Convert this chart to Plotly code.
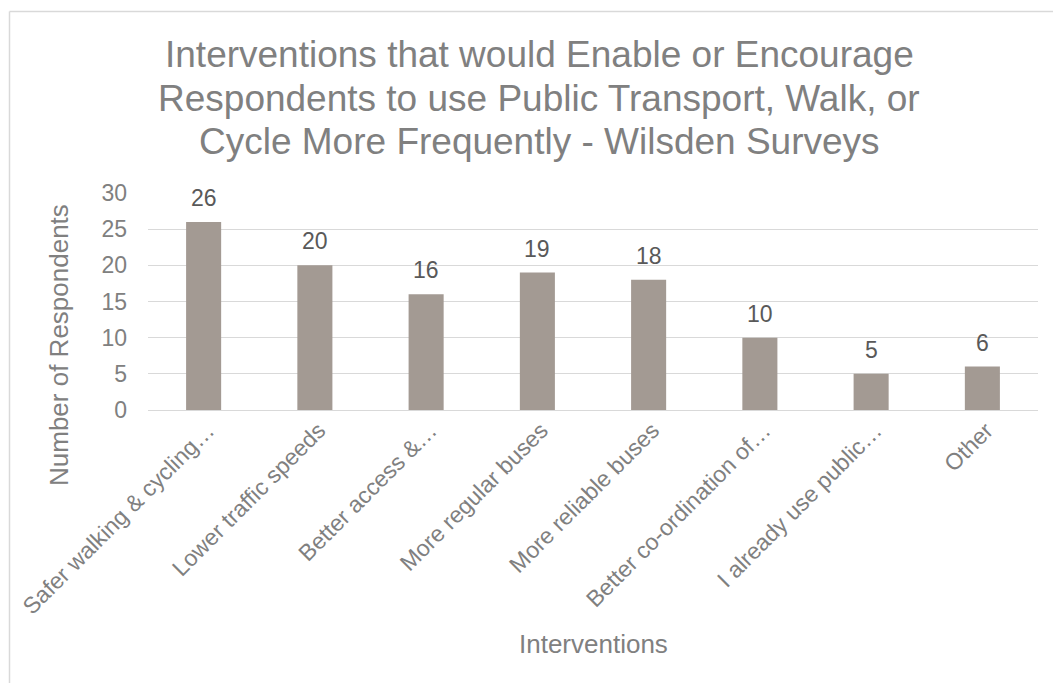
import plotly.graph_objects as go

categories = [
    "Safer walking & cycling…",
    "Lower traffic speeds",
    "Better access &…",
    "More regular buses",
    "More reliable buses",
    "Better co-ordination of…",
    "I already use public…",
    "Other",
]
respondents = [26, 20, 16, 19, 18, 10, 5, 6]
y_ticks = [0, 5, 10, 15, 20, 25, 30]
title_lines = [
    "Interventions that would Enable or Encourage",
    "Respondents to use Public Transport, Walk, or",
    "Cycle More Frequently - Wilsden Surveys",
]

W, H = 1053, 683
L, R, T, B = 148, 15, 193, 273
PW, PH = W - L - R, H - T - B

def px_x(x):
    return (x - L) / PW

def px_y(y):
    return 1 - (y - T) / PH

TXT = "#808080"
LBL = "#595959"
GRID = "#D9D9D9"
FONT = "Liberation Sans, Arial, sans-serif"

fig = go.Figure(
    go.Bar(
        x=categories,
        y=respondents,
        marker=dict(color="#A39A93", line=dict(width=0)),
        width=0.315,
        hoverinfo="x+y",
    )
)

annotations = []

# value labels sitting above each bar
for cat, val in zip(categories, respondents):
    annotations.append(dict(
        x=cat, y=val, xref="x", yref="y",
        text=str(val), showarrow=False,
        xanchor="center", yanchor="bottom", yshift=9,
        font=dict(size=23, color=LBL, family=FONT),
    ))

# chart title, one annotation per line for tight line spacing
for i, line in enumerate(title_lines):
    annotations.append(dict(
        text=line, xref="paper", yref="paper",
        x=px_x(539), y=px_y(55 + 43 * i),
        xanchor="center", yanchor="middle", showarrow=False,
        font=dict(size=37, color=TXT, family=FONT),
    ))

annotations += [
    dict(
        text="Number of Respondents",
        xref="paper", yref="paper",
        x=px_x(59), y=px_y(345),
        xanchor="center", yanchor="middle",
        textangle=-90, showarrow=False,
        font=dict(size=26, color=TXT, family=FONT),
    ),
    dict(
        text="Interventions",
        xref="paper", yref="paper",
        x=px_x(593), y=px_y(644),
        xanchor="center", yanchor="middle",
        showarrow=False,
        font=dict(size=26, color=TXT, family=FONT),
    ),
]

fig.update_layout(
    width=W,
    height=H,
    margin=dict(l=L, r=R, t=T, b=B, autoexpand=False),
    paper_bgcolor="white",
    plot_bgcolor="white",
    showlegend=False,
    font=dict(family=FONT, color=TXT),
    xaxis=dict(
        automargin=False,
        tickangle=-45,
        tickfont=dict(size=23, color=TXT),
        showgrid=False,
        showline=True,
        linecolor=GRID,
        linewidth=1,
        ticks="",
        ticklabelshift=4,
        ticklabelstandoff=-3,
    ),
    yaxis=dict(
        automargin=False,
        range=[0, 30],
        tickvals=y_ticks,
        tickfont=dict(size=23, color=TXT),
        showgrid=True,
        gridcolor=GRID,
        gridwidth=1,
        zeroline=False,
        showline=False,
        ticks="",
        ticklabelstandoff=20,
    ),
    annotations=annotations,
    shapes=[
        dict(type="line", xref="paper", yref="paper",
             x0=px_x(9.5), x1=px_x(W + 5), y0=px_y(11.5), y1=px_y(11.5),
             line=dict(color=GRID, width=1.5)),
        dict(type="line", xref="paper", yref="paper",
             x0=px_x(9.5), x1=px_x(9.5), y0=px_y(11.5), y1=px_y(H + 5),
             line=dict(color=GRID, width=1.5)),
    ],
)

fig.write_html("out.html")
